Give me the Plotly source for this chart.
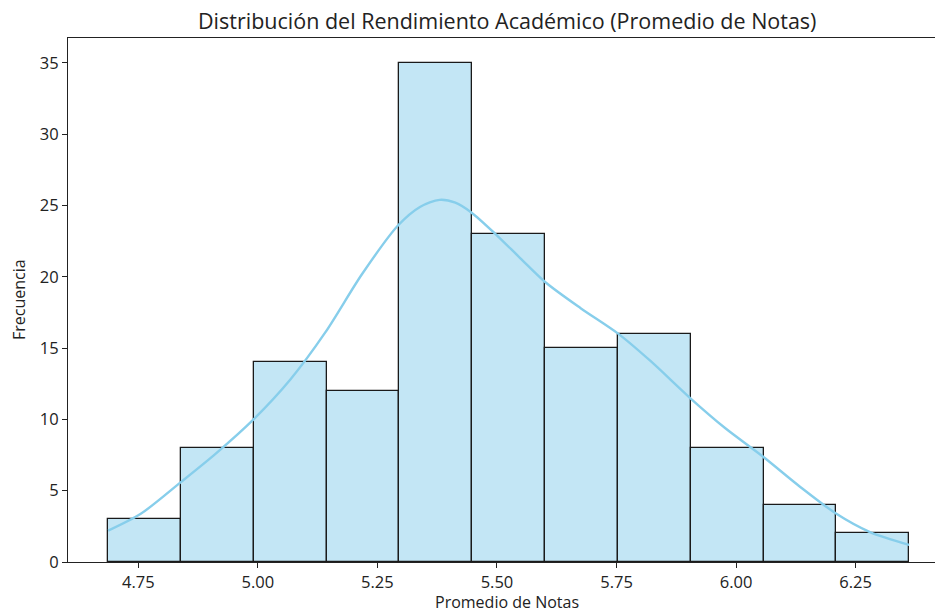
import numpy as np
import plotly.graph_objects as go

# Histogram data
bin_min = 4.687
bin_max = 6.362
counts = [3, 8, 14, 12, 35, 23, 15, 16, 8, 4, 2]

# KDE curve points (scaled to counts)
kde_x = [4.687, 4.756, 4.839, 4.912, 4.991, 5.068, 5.141, 5.218, 5.293, 5.339,
         5.380, 5.413, 5.447, 5.497, 5.549, 5.602, 5.675, 5.754, 5.821, 5.904,
         5.977, 6.056, 6.133, 6.209, 6.280, 6.362]
kde_y = [2.2, 3.4, 5.6, 7.6, 10.0, 12.8, 16.1, 20.2, 23.6, 24.9,
         25.4, 25.2, 24.5, 23.0, 21.3, 19.6, 17.8, 16.0, 14.1, 11.5,
         9.4, 7.4, 5.3, 3.4, 2.1, 1.2]

x_ticks = [4.75, 5.00, 5.25, 5.50, 5.75, 6.00, 6.25]
y_ticks = [0, 5, 10, 15, 20, 25, 30, 35]

edges = np.linspace(bin_min, bin_max, len(counts) + 1)
centers = (edges[:-1] + edges[1:]) / 2
width = edges[1] - edges[0]

FONT = "Open Sans"
INK = "#222222"

fig = go.Figure()
fig.add_trace(go.Bar(
    x=centers, y=counts, width=width,
    marker=dict(color="rgba(135,206,235,0.5)", line=dict(color="#1a1a1a", width=1.3)),
    showlegend=False, hoverinfo="skip",
))
fig.add_trace(go.Scatter(
    x=kde_x, y=kde_y, mode="lines",
    line=dict(color="#87CEEB", width=2.4, shape="spline", smoothing=0.8),
    showlegend=False, hoverinfo="skip",
))

W, H = 935, 613
ml, mr, mt, mb = 68, 0, 38, 51
pw, ph = W - ml - mr, H - mt - mb


def cx(px):
    return (px - ml) / pw


def cy(py):
    return 1 - (py - mt) / ph


fig.update_layout(
    width=W, height=H,
    margin=dict(l=ml, r=mr, t=mt, b=mb, autoexpand=False),
    plot_bgcolor="white", paper_bgcolor="white",
    bargap=0,
    font=dict(family=FONT, color=INK),
    xaxis=dict(
        range=[4.603, 6.416], tickvals=x_ticks,
        ticktext=[f"{v:.2f}" for v in x_ticks],
        showgrid=False, zeroline=False, automargin=False,
        showline=True, linecolor=INK, linewidth=1.2, mirror=True,
        ticks="outside", ticklen=5, tickwidth=1.1, tickcolor=INK,
        tickfont=dict(size=16.5, family=FONT, color=INK),
    ),
    yaxis=dict(
        range=[0, 36.75], tickvals=y_ticks,
        showgrid=False, zeroline=False, automargin=False,
        showline=True, linecolor=INK, linewidth=1.2,
        ticks="outside", ticklen=5, tickwidth=1.1, tickcolor=INK,
        tickfont=dict(size=16.5, family=FONT, color=INK),
    ),
    annotations=[
        dict(text="Distribución del Rendimiento Académico (Promedio de Notas)",
             x=cx(507), y=cy(20), xref="paper", yref="paper",
             xanchor="center", yanchor="middle", showarrow=False,
             font=dict(size=21.5, family=FONT, color=INK)),
        dict(text="Promedio de Notas",
             x=cx(507), y=cy(602), xref="paper", yref="paper",
             xanchor="center", yanchor="middle", showarrow=False,
             font=dict(size=16, family=FONT, color=INK)),
        dict(text="Frecuencia", textangle=-90,
             x=cx(19), y=cy(300), xref="paper", yref="paper",
             xanchor="center", yanchor="middle", showarrow=False,
             font=dict(size=16, family=FONT, color=INK)),
    ],
)
fig.write_html("out.html",
               config={"displayModeBar": False},
               post_script="document.body.style.margin='0px';document.body.style.overflow='hidden';")
